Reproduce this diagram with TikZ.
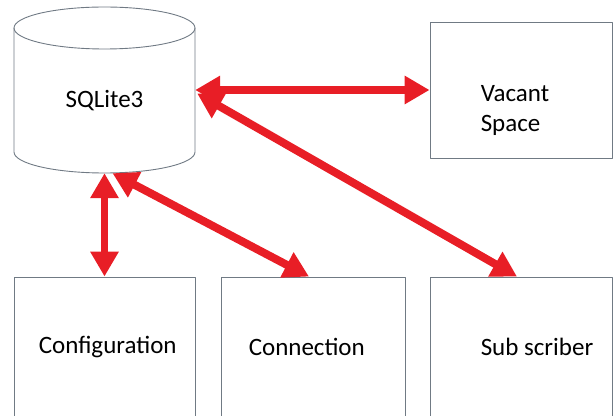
\documentclass[tikz,border=0pt]{standalone}
\usepackage{fontspec}
\setmainfont{Carlito}
\usetikzlibrary{arrows.meta}
\definecolor{linkred}{RGB}{232,30,38}
\definecolor{boxgray}{RGB}{112,122,132}
\begin{document}
\begin{tikzpicture}[line join=round,>={Triangle[length=25pt,width=27pt]},x=1pt,y=1pt,
  box/.style={draw=boxgray,line width=0.9pt,minimum width=182pt,minimum height=140pt,inner sep=0pt},
  lbl/.style={anchor=west,inner sep=0pt,align=left,font=\fontsize{25}{30}\selectfont},
  link/.style={<->,draw=linkred,line width=8pt}]
              \useasboundingbox (0,0) rectangle (613,415);

              \draw[color=boxgray,line width=0.9pt] (14,387) -- (14,263)
                arc[start angle=180,end angle=360,x radius=90.5,y radius=21] -- (195,387);
              \draw[color=boxgray,line width=0.9pt] (104.5,387) ellipse [x radius=90.5,y radius=21];
              \node[inner sep=0pt,minimum width=181pt,minimum height=145pt,font=\fontsize{25}{30}\selectfont]
                (db) at (104.5,314.5) {SQLite3};

              \node[box,minimum height=136pt] (vacant) at (521,325) {};
              \node[box,minimum width=181pt] (config) at (104.5,68) {};
              \node[box,minimum width=184pt] (conn)   at (313,68) {};
              \node[box] (sub) at (521,68) {};

              \node[lbl] (vacanttxt) at ([shift={(51,-20)}]vacant.west) {Vacant\\Space};
              \node[lbl] (configtxt) at ([xshift=25]config.west) {Configuration};
              \node[lbl] (conntxt)   at ([xshift=28]conn.west) {Connection};
              \node[lbl] (subtxt)    at ([xshift=51]sub.west) {Sub scriber};

              \draw[link] ([yshift=10.5]db.east) -- (vacant.west);
              \draw[link] ([shift={(2,7)}]db.east) -- ([xshift=-4]sub.north);
              \draw[link,line width=7pt] (db.south) -- (config.north);
              \draw[link] ([xshift=8]db.south) -- ([xshift=-4]conn.north);

             \end{tikzpicture}
\end{document}
